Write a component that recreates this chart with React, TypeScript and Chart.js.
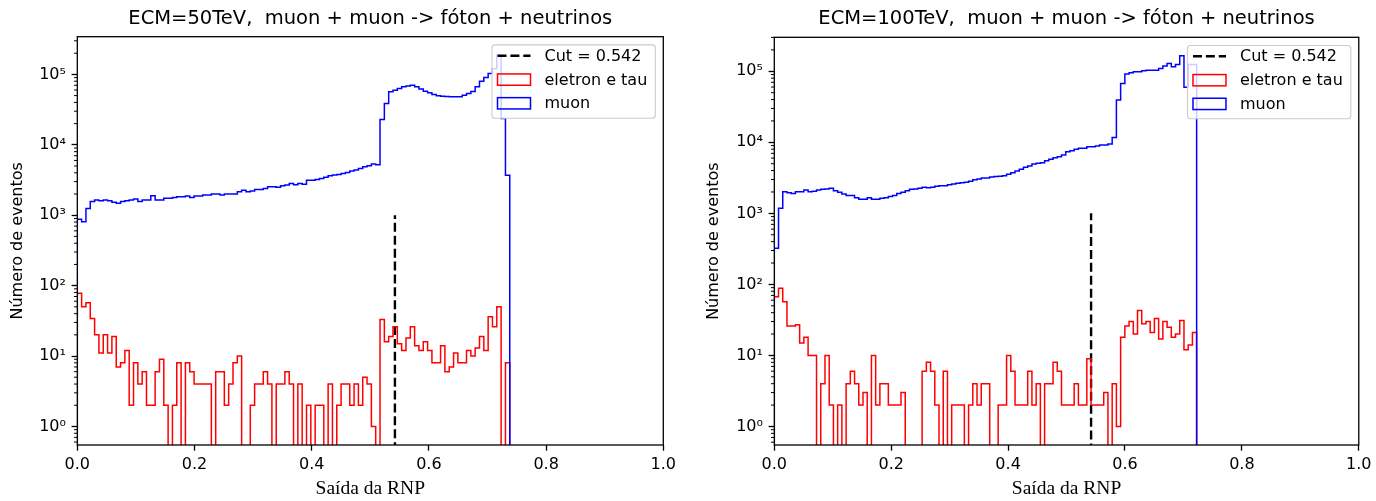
import React, { useEffect, useRef } from "react";
import { Chart, registerables } from "chart.js";

Chart.register(...registerables);

// ---------------- data ----------------
const BINS = 100;
const LEFT_RANGE = [0, 0.738];
const RIGHT_RANGE = [0, 0.7226];
const CUT = 0.542;
const CUT_TOP = 1000;
const X_TICKS = [0, 0.2, 0.4, 0.6, 0.8, 1.0];
const LEFT_TITLE = "ECM=50TeV,  muon + muon -> fóton + neutrinos";
const RIGHT_TITLE = "ECM=100TeV,  muon + muon -> fóton + neutrinos";
const LEGEND_LABELS = ["Cut = 0.542", "eletron e tau", "muon"];
const X_LABEL = "Saída da RNP";
const Y_LABEL = "Número de eventos";

const LEFT_RED = [
  78, 50, 57, 34, 20, 11, 20, 11, 19, 7,
  8, 12, 2, 8, 4, 6, 2, 2, 6, 9,
  2, 0, 2, 8, 0, 8, 6, 4, 4, 4,
  4, 0, 6, 6, 2, 4, 8, 10, 0, 0,
  2, 4, 4, 6, 4, 0, 4, 4, 6, 4,
  0, 4, 0, 2, 0, 2, 2, 0, 4, 0,
  2, 4, 4, 2, 4, 2, 5, 4, 1, 0,
  33, 16, 19, 26, 15, 12, 18, 26, 14, 12,
  16, 12, 8, 8, 14, 6, 7, 11, 8, 8,
  12, 10, 13, 19, 12, 36, 26, 50, 0, 8,
];

const LEFT_BLUE = [
  875, 810, 1250, 1560, 1640, 1610, 1640, 1610, 1530, 1480,
  1560, 1610, 1640, 1700, 1560, 1640, 1640, 1890, 1640, 1640,
  1740, 1740, 1790, 1830, 1830, 1870, 1790, 1870, 1870, 1930,
  1930, 2000, 2000, 1930, 2000, 2000, 2000, 2150, 2270, 2150,
  2200, 2320, 2320, 2400, 2540, 2540, 2500, 2620, 2680, 2830,
  2700, 2830, 2760, 3150, 3150, 3220, 3330, 3450, 3630, 3720,
  3790, 3920, 4050, 4230, 4400, 4610, 4870, 5040, 5320, 5200,
  22900, 38600, 56500, 59600, 63000, 66500, 68700, 70200, 66500, 62000,
  57700, 54700, 51800, 49600, 49000, 48500, 48000, 48000, 48000, 50700,
  53500, 57000, 66500, 80000, 90000, 103000, 120000, 187000, 23700, 3700,
];

const RIGHT_RED = [
  67, 88, 57, 26, 26, 27, 15, 18, 10, 10,
  0, 4, 10, 2, 0, 2, 0, 4, 6, 4,
  2, 3, 0, 10, 2, 4, 4, 2, 2, 2,
  3, 0, 0, 0, 0, 6, 8, 6, 2, 0,
  6, 0, 2, 2, 2, 0, 2, 4, 2, 4,
  4, 0, 0, 2, 2, 10, 6, 2, 2, 2,
  6, 2, 4, 0, 4, 4, 8, 6, 2, 2,
  2, 4, 2, 2, 9, 2, 2, 2, 3, 0,
  4, 1, 18, 26, 30, 20, 43, 28, 30, 21,
  33, 17, 30, 25, 18, 20, 31, 12, 14, 21,
];

const RIGHT_BLUE = [
  323, 1180, 2020, 1950, 1910, 2020, 2020, 2130, 2020, 2050,
  2130, 2180, 2200, 2250, 2080, 1980, 1870, 1780, 1780, 1660,
  1580, 1580, 1660, 1580, 1580, 1630, 1660, 1720, 1780, 1910,
  1980, 2080, 2180, 2200, 2250, 2330, 2300, 2330, 2400, 2450,
  2450, 2530, 2590, 2650, 2700, 2730, 2830, 2980, 3050, 3150,
  3150, 3250, 3300, 3320, 3390, 3540, 3740, 3950, 4170, 4450,
  4650, 4960, 5060, 5170, 5520, 5760, 6080, 6280, 6630, 7390,
  7630, 7970, 8230, 8230, 8690, 8690, 8870, 9170, 9170, 9470,
  11700, 39300, 67400, 91200, 95300, 98400, 98400, 101600, 103800, 103800,
  103800, 109600, 118200, 128900, 115600, 124800, 165000, 59400, 125000, 125000,
];

// ---------------- helpers ----------------
const FLOOR = 0.01; // stands in for empty bins (drawn below the axis, clipped)
const FONT = "'DejaVu Sans', 'Noto Sans', sans-serif";
const SUP = ["⁰", "¹", "²", "³", "⁴", "⁵", "⁶", "⁷", "⁸", "⁹"];

function binEdges(range: number[], n: number) {
  const [a, b] = range;
  const e: number[] = [];
  for (let i = 0; i <= n; i++) e.push(a + ((b - a) * i) / n);
  return e;
}

function stepPoints(counts: number[], range: number[]) {
  const e = binEdges(range, counts.length);
  const pts: { x: number; y: number }[] = [{ x: e[0], y: FLOOR }];
  counts.forEach((c, i) => pts.push({ x: e[i], y: c > 0 ? c : FLOOR }));
  const last = counts[counts.length - 1];
  pts.push({ x: e[counts.length], y: last > 0 ? last : FLOOR });
  pts.push({ x: e[counts.length], y: FLOOR });
  return pts;
}

function isPow10(v: number) {
  const l = Math.log10(v);
  return Math.abs(l - Math.round(l)) < 1e-6;
}

function powLabel(v: number) {
  if (!isPow10(v)) return "";
  const e = Math.round(Math.log10(v));
  return "10" + (e < 0 ? "⁻" : "") + String(Math.abs(e)).split("").map((d) => SUP[+d]).join("");
}

function logLimits(series: number[][]) {
  const mx = Math.max(...series.flat());
  const mn = Math.min(...series.flat().filter((v) => v > 0));
  const lo = Math.log10(mn);
  const hi = Math.log10(mx);
  const m = (hi - lo) * 0.05;
  return { min: Math.pow(10, lo - m), max: Math.pow(10, hi + m) };
}

// ---------------- plugins ----------------
const framePlugin = {
  id: "mplFrame",
  afterDatasetsDraw(chart: any) {
    const { ctx, chartArea: a } = chart;
    ctx.save();
    ctx.strokeStyle = "#000";
    ctx.lineWidth = 1.3;
    ctx.strokeRect(a.left, a.top, a.right - a.left, a.bottom - a.top);
    // minor ticks on y
    const ys = chart.scales.y;
    ctx.lineWidth = 1.0;
    ys.ticks.forEach((t: any) => {
      if (isPow10(t.value)) return;
      const y = ys.getPixelForValue(t.value);
      if (y < a.top - 0.5 || y > a.bottom + 0.5) return;
      ctx.beginPath();
      ctx.moveTo(a.left - 3.3, y);
      ctx.lineTo(a.left, y);
      ctx.stroke();
    });
    ctx.restore();
  },
};

const legendPlugin = {
  id: "mplLegend",
  afterDraw(chart: any) {
    const { ctx, chartArea: a } = chart;
    const fs = 16;
    ctx.save();
    ctx.font = `${fs}px ${FONT}`;
    const textW = Math.max(...LEGEND_LABELS.map((t) => ctx.measureText(t).width));
    const pad = 5.5;
    const handleLen = 33;
    const handlePad = 14;
    const w = pad + handleLen + handlePad + textW + 8;
    const h = 73.3;
    const right = a.right - 8;
    const left = right - w;
    const top = a.top + 8.2;
    // frame
    const r = 3;
    ctx.beginPath();
    ctx.moveTo(left + r, top);
    ctx.lineTo(right - r, top);
    ctx.quadraticCurveTo(right, top, right, top + r);
    ctx.lineTo(right, top + h - r);
    ctx.quadraticCurveTo(right, top + h, right - r, top + h);
    ctx.lineTo(left + r, top + h);
    ctx.quadraticCurveTo(left, top + h, left, top + h - r);
    ctx.lineTo(left, top + r);
    ctx.quadraticCurveTo(left, top, left + r, top);
    ctx.closePath();
    ctx.fillStyle = "rgba(255,255,255,0.8)";
    ctx.fill();
    ctx.strokeStyle = "#cccccc";
    ctx.lineWidth = 1.1;
    ctx.stroke();

    const hx = left + pad;
    const tx = hx + handleLen + handlePad;
    const rows = [top + 10.8, top + 34.7, top + 58.4];
    // cut
    ctx.strokeStyle = "#000";
    ctx.lineWidth = 2.4;
    ctx.setLineDash([9, 3.9]);
    ctx.beginPath();
    ctx.moveTo(hx, rows[0]);
    ctx.lineTo(hx + handleLen, rows[0]);
    ctx.stroke();
    ctx.setLineDash([]);
    // patches
    const ph = 11.3;
    ctx.lineWidth = 1.5;
    ctx.strokeStyle = "#ff0000";
    ctx.strokeRect(hx, rows[1] - ph / 2, handleLen, ph);
    ctx.strokeStyle = "#0000ff";
    ctx.strokeRect(hx, rows[2] - ph / 2, handleLen, ph);
    // labels
    ctx.fillStyle = "#000";
    ctx.textAlign = "left";
    ctx.textBaseline = "middle";
    LEGEND_LABELS.forEach((t, i) => ctx.fillText(t, tx, rows[i] + 1));
    ctx.restore();
  },
};

// ---------------- panel ----------------
type PanelCfg = {
  offset: number;
  title: string;
  red: number[];
  blue: number[];
  range: number[];
  yAxisW: number;
  padRight: number;
  titleTop: number;
  titleBottom: number;
  xAxisH: number;
  ylabelPad: number;
};

function Panel({ cfg }: { cfg: PanelCfg }) {
  const ref = useRef<HTMLCanvasElement>(null);
  useEffect(() => {
    const lim = logLimits([cfg.red, cfg.blue]);
    const tickFont = { family: FONT, size: 16 };
    const chart = new Chart(ref.current as HTMLCanvasElement, {
      type: "line",
      data: {
        datasets: [
          {
            label: LEGEND_LABELS[2],
            data: stepPoints(cfg.blue, cfg.range),
            borderColor: "#0000ff",
            backgroundColor: "#0000ff",
            borderWidth: 1.5,
            pointRadius: 0,
            stepped: true,
            fill: false,
            tension: 0,
          },
          {
            label: LEGEND_LABELS[1],
            data: stepPoints(cfg.red, cfg.range),
            borderColor: "#ff0000",
            backgroundColor: "#ff0000",
            borderWidth: 1.5,
            pointRadius: 0,
            stepped: true,
            fill: false,
            tension: 0,
          },
          {
            label: LEGEND_LABELS[0],
            data: [
              { x: CUT, y: FLOOR },
              { x: CUT, y: CUT_TOP },
            ],
            borderColor: "#000",
            borderWidth: 2.4,
            borderDash: [9, 3.9],
            pointRadius: 0,
            fill: false,
          },
        ],
      } as any,
      options: {
        animation: false,
        responsive: false,
        devicePixelRatio: 1,
        events: [],
        layout: { padding: { left: 0, right: cfg.padRight, top: 0, bottom: 0 } },
        plugins: {
          legend: { display: false },
          tooltip: { enabled: false },
          title: {
            display: true,
            text: cfg.title,
            fullSize: false,
            color: "#000",
            font: { family: FONT, size: 19.5, weight: "normal" },
            padding: { top: cfg.titleTop, bottom: cfg.titleBottom },
          },
        },
        scales: {
          x: {
            type: "linear",
            min: 0,
            max: 1,
            afterBuildTicks: (s: any) => {
              s.ticks = X_TICKS.map((v) => ({ value: v }));
            },
            afterFit: (s: any) => {
              s.height = cfg.xAxisH;
            },
            ticks: {
              callback: (v: any) => Number(v).toFixed(1),
              font: tickFont,
              color: "#000",
              padding: 4.5,
              maxRotation: 0,
              autoSkip: false,
            },
            grid: {
              display: true,
              drawOnChartArea: false,
              drawTicks: true,
              tickLength: 5.7,
              tickWidth: 1.3,
              tickColor: "#000",
            },
            border: { display: false },
            title: {
              display: true,
              text: X_LABEL,
              color: "#000",
              font: { family: "'Liberation Serif', 'DejaVu Serif', serif", size: 19.5 },
              padding: { top: 0, bottom: 0.5 },
            },
          },
          y: {
            type: "logarithmic",
            min: lim.min,
            max: lim.max,
            afterBuildTicks: (s: any) => {
              const t: { value: number }[] = [];
              for (let k = -2; k <= 7; k++) {
                for (let m = 1; m <= 9; m++) {
                  const v = m * Math.pow(10, k);
                  if (v >= s.min && v <= s.max) t.push({ value: v });
                }
              }
              s.ticks = t;
            },
            afterFit: (s: any) => {
              s.width = cfg.yAxisW;
            },
            ticks: {
              callback: (v: any) => powLabel(Number(v)),
              font: tickFont,
              color: "#000",
              padding: 5.7,
              autoSkip: false,
            },
            grid: {
              display: true,
              drawOnChartArea: false,
              drawTicks: true,
              tickLength: 5.7,
              tickWidth: 1.3,
              tickColor: (c: any) => (c.tick && isPow10(c.tick.value) ? "#000" : "rgba(0,0,0,0)"),
            },
            border: { display: false },
            title: {
              display: true,
              text: Y_LABEL,
              color: "#000",
              font: { family: FONT, size: 16 },
              padding: { top: cfg.ylabelPad, bottom: 0 },
            },
          },
        },
      } as any,
      plugins: [framePlugin, legendPlugin],
    });
    return () => chart.destroy();
  }, []);
  return (
    <div style={{ position: "absolute", left: cfg.offset, top: 0, width: 688, height: 501 }}>
      <canvas ref={ref} width={688} height={501} style={{ width: 688, height: 501, display: "block" }} />
    </div>
  );
}

const LEFT_CFG: PanelCfg = {
  offset: 0,
  title: LEFT_TITLE,
  red: LEFT_RED,
  blue: LEFT_BLUE,
  range: LEFT_RANGE,
  yAxisW: 77.3,
  padRight: 24.7,
  titleTop: 7.3,
  titleBottom: 6.0,
  xAxisH: 56,
  ylabelPad: 8.1,
};

const RIGHT_CFG: PanelCfg = {
  offset: 688,
  title: RIGHT_TITLE,
  red: RIGHT_RED,
  blue: RIGHT_BLUE,
  range: RIGHT_RANGE,
  yAxisW: 86.3,
  padRight: 15.3,
  titleTop: 7.6,
  titleBottom: 6.3,
  xAxisH: 56,
  ylabelPad: 16.6,
};

export default function App() {
  return (
    <div style={{ position: "absolute", left: 0, top: 0, width: 1376, height: 501, background: "#fff", overflow: "hidden" }}>
      <Panel cfg={LEFT_CFG} />
      <Panel cfg={RIGHT_CFG} />
    </div>
  );
}
